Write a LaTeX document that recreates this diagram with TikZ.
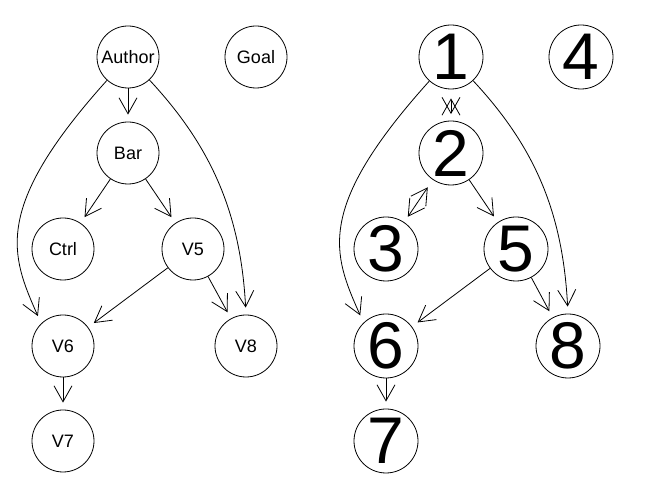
\documentclass[tikz,border=0pt]{standalone}
\usepackage{fontspec}
\setmainfont{Liberation Sans}
\usetikzlibrary{arrows.meta}

\begin{document}
\begin{tikzpicture}[x=1pt,y=1pt,
    vtx/.style={circle,draw,line width=0.8pt,minimum size=62pt,inner sep=0pt,
        font=\fontsize{18}{18}\selectfont},
    bigvtx/.style={circle,draw,line width=0.8pt,minimum size=64pt,inner sep=0pt,
        font=\fontsize{66}{66}\selectfont},
    arr/.style={-{Straight Barb[length=16pt,width=18pt]},line width=0.8pt,shorten >=7pt},
    mutual/.style={{Straight Barb[length=16pt,width=18pt]}-{Straight Barb[length=16pt,width=18pt]},
        line width=0.8pt,shorten <=9pt,shorten >=6.5pt}]
    \useasboundingbox (0,0) rectangle (646,502);

    % 左边的图: 文字标签
    \node[vtx] (author) at (128,445) {Author};
    \node[vtx] (goal) at (256,445) {Goal};
    \node[vtx] (bar) at (128,349) {Bar};
    \node[vtx] (ctrl) at (63,253) {Ctrl};
    \node[vtx] (v5) at (193,253) {V5};
    \node[vtx] (v6) at (63,156) {V6};
    \node[vtx] (v8) at (246,156) {V8};
    \node[vtx] (v7) at (63,61) {V7};

    \draw[arr] (author) -- (bar);
    \draw[arr] (bar) -- (ctrl);
    \draw[arr] (bar) -- (v5);
    \draw[arr] (v5) -- (v6);
    \draw[arr] (v5) -- (v8);
    \draw[arr] (v6) -- (v7);
    \draw[arr,shorten >=8pt] (author.228) .. controls +(228:172) and +(114:75) .. (v6.134);
    \draw[arr] (author.313) .. controls +(313:90) and +(93:102) .. (v8.90);

    % 右边的图: 数字标签
    \node[bigvtx] (n1) at (451,445) {1};
    \node[bigvtx] (n4) at (581,445) {4};
    \node[bigvtx] (n2) at (451,349) {2};
    \node[bigvtx] (n3) at (386,253) {3};
    \node[bigvtx] (n5) at (516,253) {5};
    \node[bigvtx] (n6) at (386,156) {6};
    \node[bigvtx] (n8) at (568,156) {8};
    \node[bigvtx] (n7) at (386,61) {7};

    \draw[mutual] (n1) -- (n2);
    \draw[mutual] (n2) -- (n3);
    \draw[arr] (n2) -- (n5);
    \draw[arr] (n5) -- (n6);
    \draw[arr] (n5) -- (n8);
    \draw[arr] (n6) -- (n7);
    \draw[arr,shorten >=8pt] (n1.228) .. controls +(228:172) and +(114:75) .. (n6.134);
    \draw[arr] (n1.313) .. controls +(313:90) and +(93:102) .. (n8.90);
\end{tikzpicture}
\end{document}
